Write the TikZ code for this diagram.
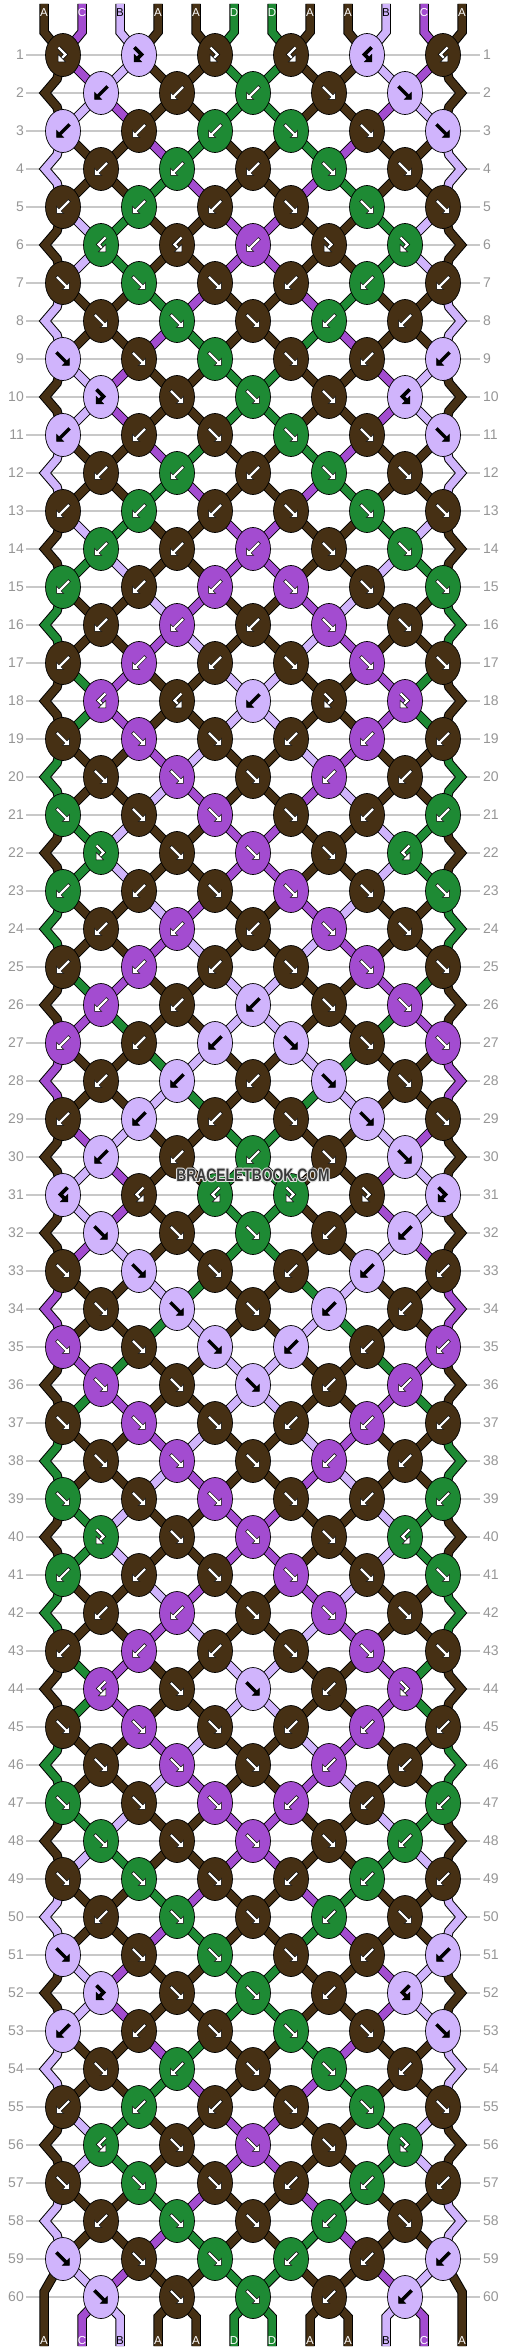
\documentclass[tikz,border=0pt]{standalone}
\usepackage{fontspec}
\setmainfont{Liberation Sans}
\usetikzlibrary{shapes.geometric}

\definecolor{strA}{RGB}{70,48,20}
\definecolor{strB}{RGB}{208,180,252}
\definecolor{strC}{RGB}{163,76,208}
\definecolor{strD}{RGB}{30,138,52}
\definecolor{rowgray}{RGB}{150,150,150}
\definecolor{linegray}{RGB}{200,200,200}
\definecolor{markgray}{RGB}{58,58,58}
\definecolor{markrim}{RGB}{225,225,225}

\def\tyF{F}\def\tyB{B}\def\tyFB{FB}\def\tyBF{BF}\def\colB{B}
\def\stripbr#1\relax{\def\kl{#1}}

\tikzset{
  knot/.style={ellipse, draw=black, line width=0.7pt, minimum width=35pt,
    minimum height=43pt, inner sep=0pt},
  strandout/.style={line width=9.5pt, draw=black},
  strandin/.style={line width=7.5pt, draw=#1},
  rowline/.style={draw=linegray, line width=1.2pt},
  rownum/.style={text=rowgray, font=\fontsize{14}{14}\selectfont, inner sep=0pt},
  endlabel/.style={font=\fontsize{11.5}{11.5}\selectfont, inner sep=0pt},
  arrowhd/.style={fill=#1, draw=black, line width=0.5pt, line join=miter},
  marktext/.style={font=\bfseries\fontsize{18}{18}\selectfont, text=#1,
    xscale=0.77, transform shape, inner sep=0pt},
}

% one piece of string: black rim, coloured core
\newcommand\strand[2]{%
  \draw[strandout] #2;
  \draw[strandin=str#1] #2;}

% straight arrows, #1 fill, #2 knot
\newcommand\arrF[2]{\filldraw[arrowhd=#1, shift={(#2)}]
  (-7.42,-5.30) -- (1.77,3.89) -- (-0.71,6.36) -- (6.36,6.36) -- (6.36,-0.71)
  -- (3.89,1.77) -- (-5.30,-7.42) -- cycle;}
\newcommand\arrB[2]{\filldraw[arrowhd=#1, shift={(#2)}, xscale=-1]
  (-7.42,-5.30) -- (1.77,3.89) -- (-0.71,6.36) -- (6.36,6.36) -- (6.36,-0.71)
  -- (3.89,1.77) -- (-5.30,-7.42) -- cycle;}
% hooked arrows (forward-backward, backward-forward)
\newcommand\arrFB[2]{%
  \begin{scope}[shift={(#2)}]
    \draw[line width=3.6pt, draw=black] (-4.5,-7.5) -- (2.5,-0.5) -- (-2,4);
    \draw[line width=2.2pt, draw=#1] (-4.5,-7.5) -- (2.5,-0.5) -- (-2,4);
    \filldraw[arrowhd=#1] (-4.8,6.8) -- (-4.8,-0.6) -- (2.6,6.8) -- cycle;
  \end{scope}}
\newcommand\arrBF[2]{%
  \begin{scope}[shift={(#2)}, xscale=-1]
    \draw[line width=3.6pt, draw=black] (-4.5,-7.5) -- (2.5,-0.5) -- (-2,4);
    \draw[line width=2.2pt, draw=#1] (-4.5,-7.5) -- (2.5,-0.5) -- (-2,4);
    \filldraw[arrowhd=#1] (-4.8,6.8) -- (-4.8,-0.6) -- (2.6,6.8) -- cycle;
  \end{scope}}

\begin{document}
\begin{tikzpicture}[x=1pt, y=-1pt]
  \useasboundingbox (0,0) rectangle (506,2352);
  \fill[white] (0,0) rectangle (506,2352);

  % row lines and numbers
  \foreach \rw in {1,...,60} {
    \pgfmathtruncatemacro\ry{17+38*\rw}
    \draw[rowline] (26,\ry) -- (480,\ry);
    \node[rownum, anchor=east] (ln\rw) at (24,\ry) {\rw};
    \node[rownum, anchor=west] (rn\rw) at (483,\ry) {\rw};
  }

  % strings at the start
  \foreach \strc [count=\i] in {A,C,B,A,A,D,D,A,A,B,C,A} {
    \expandafter\xdef\csname s\i\endcsname{\strc}
    \coordinate (t\i) at (6+38*\i,4);
    \coordinate (b\i) at (6+38*\i,2346);
  }

  % knots, row by row: first the strings
  \foreach \kr [count=\rw] in {
    {FB,FB,FB,BF,BF,BF}, % 1
    {B,B,B,F,F},
    {B,B,B,F,F,F},
    {B,B,B,F,F},
    {B,B,B,F,F,F}, % 5
    {BF,BF,B,FB,FB},
    {F,F,F,B,B,B},
    {F,F,F,B,B},
    {F,F,F,F,B,B},
    {FB,F,F,F,BF}, % 10
    {B,B,F,F,F,F},
    {B,B,B,F,F},
    {B,B,B,F,F,F},
    {B,B,B,F,F},
    {B,B,B,F,F,F}, % 15
    {B,B,B,F,F},
    {B,B,B,F,F,F},
    {BF,BF,B,FB,FB},
    {F,F,F,B,B,B},
    {F,F,F,B,B}, % 20
    {F,F,F,F,B,B},
    {FB,F,F,F,BF},
    {B,B,F,F,F,F},
    {B,B,B,F,F},
    {B,B,B,F,F,F}, % 25
    {B,B,B,F,F},
    {B,B,B,F,F,F},
    {B,B,B,F,F},
    {B,B,B,F,F,F},
    {B,B,B,F,F}, % 30
    {BF,BF,BF,FB,FB,FB},
    {F,F,F,B,B},
    {F,F,F,B,B,B},
    {F,F,F,B,B},
    {F,F,F,B,B,B}, % 35
    {F,F,F,B,B},
    {F,F,F,B,B,B},
    {F,F,F,B,B},
    {F,F,F,F,B,B},
    {FB,F,F,F,BF}, % 40
    {B,B,F,F,F,F},
    {B,B,F,F,F},
    {B,B,B,F,F,F},
    {BF,F,F,B,FB},
    {F,F,F,B,B,B}, % 45
    {F,F,F,B,B},
    {F,F,F,B,B,B},
    {F,F,F,F,B},
    {F,F,F,B,B,B},
    {B,F,F,B,F}, % 50
    {F,F,F,F,B,B},
    {FB,F,F,B,BF},
    {B,B,F,F,F,F},
    {F,B,F,F,B},
    {B,B,B,F,F,F}, % 55
    {BF,F,F,F,FB},
    {F,F,F,B,B,B},
    {B,F,F,B,F},
    {F,F,F,B,B,B},
    {F,F,F,B,B}% 60
  } {
    \expandafter\stripbr\romannumeral-`0\kr\relax
    \pgfmathtruncatemacro\ry{17+38*\rw}
    \pgfmathtruncatemacro\rodd{mod(\rw,2)}
    \pgfmathtruncatemacro\rp{\rw-1}
    \pgfmathtruncatemacro\rpp{\rw-2}
    \foreach \ktype [count=\kn] in \kl {
      \pgfmathtruncatemacro\slotl{2*\kn-\rodd}
      \pgfmathtruncatemacro\slotr{\slotl+1}
      \pgfmathtruncatemacro\knl{\kn-1}
      \pgfmathtruncatemacro\knr{\kn+1}
      \edef\lc{\csname s\slotl\endcsname}
      \edef\rc{\csname s\slotr\endcsname}
      \edef\kt{\ktype}
      \ifx\kt\tyF \edef\kc{\lc}
        \expandafter\xdef\csname s\slotl\endcsname{\rc}
        \expandafter\xdef\csname s\slotr\endcsname{\lc}\fi
      \ifx\kt\tyB \edef\kc{\rc}
        \expandafter\xdef\csname s\slotl\endcsname{\rc}
        \expandafter\xdef\csname s\slotr\endcsname{\lc}\fi
      \ifx\kt\tyFB \edef\kc{\lc}\fi
      \ifx\kt\tyBF \edef\kc{\rc}\fi
      \expandafter\xdef\csname kc\rw-\kn\endcsname{\kc}
      \expandafter\xdef\csname kt\rw-\kn\endcsname{\kt}
      \coordinate (k\rw-\kn) at (25+38*\slotl,\ry);
      % strings coming into the knot
      \ifnum\rw=1
        \strand{\lc}{(t\slotl) -- ++(0,28) -- (k\rw-\kn)}
        \strand{\rc}{(t\slotr) -- ++(0,28) -- (k\rw-\kn)}
      \else
        \ifnum\rodd=1
          \ifnum\kn=1
            \strand{\lc}{(k\rpp-1) -- ++(-6,24) -- ++(-12,14) -- ++(12,14) -- (k\rw-1)}
          \else
            \strand{\lc}{(k\rp-\knl) -- (k\rw-\kn)}
          \fi
          \ifnum\kn=6
            \strand{\rc}{(k\rpp-6) -- ++(6,24) -- ++(12,14) -- ++(-12,14) -- (k\rw-6)}
          \else
            \strand{\rc}{(k\rp-\kn) -- (k\rw-\kn)}
          \fi
        \else
          \strand{\lc}{(k\rp-\kn) -- (k\rw-\kn)}
          \strand{\rc}{(k\rp-\knr) -- (k\rw-\kn)}
        \fi
      \fi
    }
  }

  % strings at the end
  \edef\lc{\csname s1\endcsname}
  \strand{\lc}{(k59-1) -- ++(-19,33) -- (b1)}
  \edef\lc{\csname s12\endcsname}
  \strand{\lc}{(k59-6) -- ++(19,33) -- (b12)}
  \foreach \kn in {1,...,5} {
    \pgfmathtruncatemacro\slotl{2*\kn}
    \pgfmathtruncatemacro\slotr{2*\kn+1}
    \edef\lc{\csname s\slotl\endcsname}
    \edef\rc{\csname s\slotr\endcsname}
    \strand{\lc}{(k60-\kn) -- ++(-19,20) -- (b\slotl)}
    \strand{\rc}{(k60-\kn) -- ++(19,20) -- (b\slotr)}
  }

  % then the knots on top
  \foreach \rw in {1,...,60} {
    \pgfmathtruncatemacro\nk{5+mod(\rw,2)}
    \foreach \kn in {1,...,\nk} {
      \edef\kc{\csname kc\rw-\kn\endcsname}
      \edef\kt{\csname kt\rw-\kn\endcsname}
      \ifx\kc\colB \def\ac{black}\else\def\ac{white}\fi
      \node[knot, fill=str\kc] (kn\rw-\kn) at (k\rw-\kn) {};
      \ifx\kt\tyF \arrF{\ac}{kn\rw-\kn.center}\fi
      \ifx\kt\tyB \arrB{\ac}{kn\rw-\kn.center}\fi
      \ifx\kt\tyFB \arrFB{\ac}{kn\rw-\kn.center}\fi
      \ifx\kt\tyBF \arrBF{\ac}{kn\rw-\kn.center}\fi
    }
  }

  % letters at both ends
  \foreach \strc [count=\i] in {A,C,B,A,A,D,D,A,A,B,C,A} {
    \edef\cc{\strc}
    \ifx\cc\colB \def\lblc{black}\else\def\lblc{white}\fi
    \node[endlabel, text=\lblc] (lt\i) at (6+38*\i,13) {\strc};
  }
  \foreach \i in {1,...,12} {
    \edef\cc{\csname s\i\endcsname}
    \ifx\cc\colB \def\lblc{black}\else\def\lblc{white}\fi
    \node[endlabel, text=\lblc] (lb\i) at (6+38*\i,2341) {\cc};
  }

  % watermark with a light rim
  \foreach \dx/\dy in {-1/0,1/0,0/-1,0/1,-0.7/-0.7,0.7/-0.7,-0.7/0.7,0.7/0.7}
    \node[marktext=markrim] at (253+\dx,1175.5+\dy) {BRACELETBOOK.COM};
  \node[marktext=markgray] (mark) at (253,1175.5) {BRACELETBOOK.COM};
\end{tikzpicture}
\end{document}
